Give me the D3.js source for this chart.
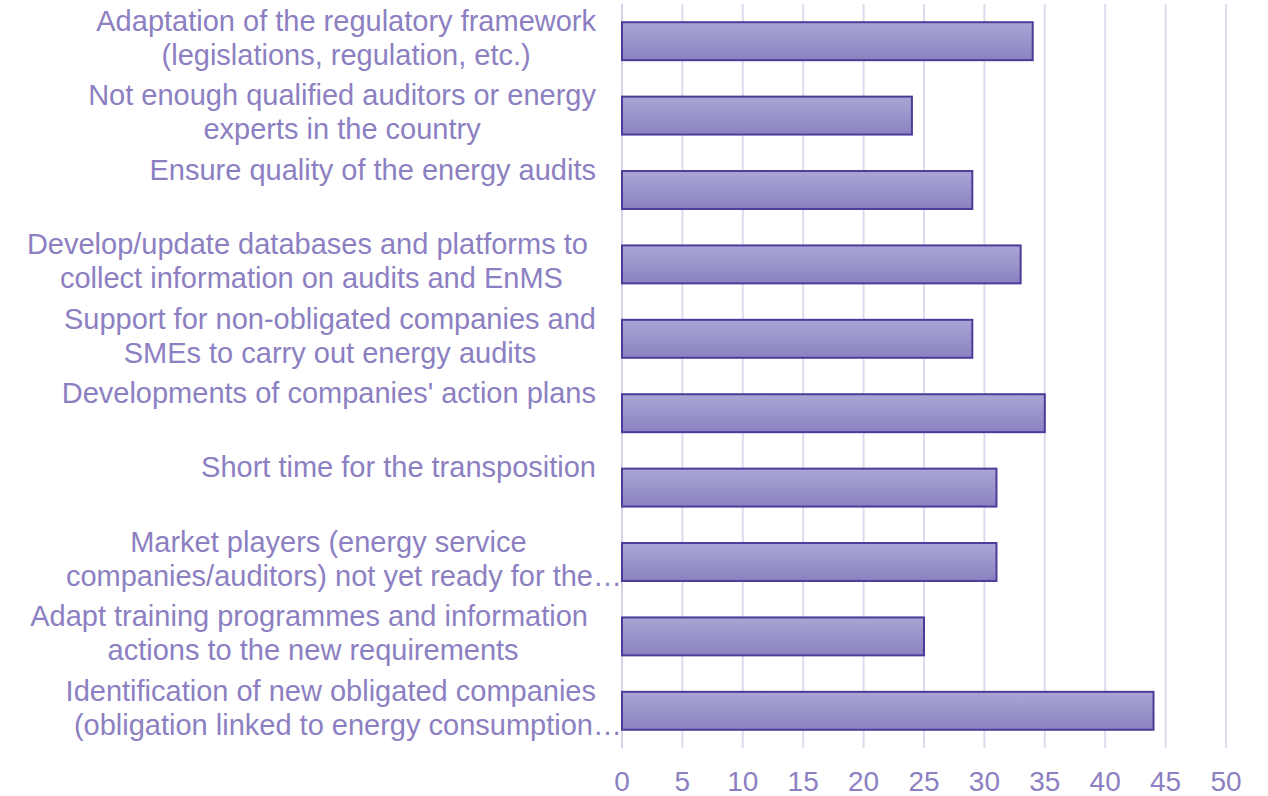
<!DOCTYPE html>
<html>
<head>
<meta charset="utf-8">
<script src="https://cdn.jsdelivr.net/npm/d3@7"></script>
<style>
  body { margin: 0; background: #ffffff; }
  text { font-family: "Liberation Sans", Arial, sans-serif; white-space: pre; }
</style>
</head>
<body>
<div id="chart"></div>
<script>
// ---- Data ----
const categories = [
    ["Adaptation of the regulatory framework", "(legislations, regulation, etc.)"],
    ["Not enough qualified auditors or energy", "experts in the country"],
    ["Ensure quality of the energy audits"],
    ["Develop/update databases and platforms to ", "collect information on audits and EnMS"],
    ["Support for non-obligated companies and", "SMEs to carry out energy audits"],
    ["Developments of companies' action plans"],
    ["Short time for the transposition"],
    ["Market players (energy service", "companies/auditors) not yet ready for the \u2026"],
    ["Adapt training programmes and information ", "actions to the new requirements"],
    ["Identification of new obligated companies", "(obligation linked to energy consumption\u2026"]
];
const values = [34, 24, 29, 33, 29, 35, 31, 31, 25, 44];
const xTicks = [0, 5, 10, 15, 20, 25, 30, 35, 40, 45, 50];

const width = 1268, height = 796;
const textColor = "#8c80c2";

const svg = d3.select("#chart")
    .append("svg")
    .attr("width", width)
    .attr("height", height);

// gradient for bars
const grad = svg.append("defs").append("linearGradient")
    .attr("id", "barGrad")
    .attr("x1", 0).attr("y1", 0).attr("x2", 0).attr("y2", 1);
grad.append("stop").attr("offset", "0%").attr("stop-color", "#a9a6d5");
grad.append("stop").attr("offset", "100%").attr("stop-color", "#8a82c0");

// ---- Scales ----
const xScale = d3.scaleLinear().domain([0, 50]).range([622, 1226]);
const yScale = d3.scaleBand()
    .domain(d3.range(categories.length))
    .range([4, 748])
    .paddingInner(0.49)
    .paddingOuter(0.245);

// ---- Gridlines ----
svg.append("g")
    .selectAll("line")
    .data(xTicks)
    .join("line")
    .attr("x1", d => xScale(d))
    .attr("x2", d => xScale(d))
    .attr("y1", 4)
    .attr("y2", 748)
    .attr("stroke", d => d === 0 ? "#d6d2ea" : "#dedbef")
    .attr("stroke-width", 2);

// ---- Bars ----
svg.append("g")
    .selectAll("rect")
    .data(values)
    .join("rect")
    .attr("x", xScale(0))
    .attr("y", (d, i) => yScale(i))
    .attr("width", d => xScale(d) - xScale(0))
    .attr("height", yScale.bandwidth())
    .attr("fill", "url(#barGrad)")
    .attr("stroke", "#4b3c9c")
    .attr("stroke-width", 2);

// ---- Category labels ----
const step = yScale.step();
const labelRight = 596;
const lineHeight = 34;

// measure a string (used for truncated lines without the ellipsis)
const measure = svg.append("text").style("font-size", "29px").attr("opacity", 0);
function textWidth(s) {
    measure.text(s);
    return measure.node().getComputedTextLength();
}

const labels = svg.append("g").attr("class", "labels");
categories.forEach((lines, i) => {
    const bandTop = 4 + i * step;
    const g = labels.append("g");
    // lines are centred in a block right-aligned at labelRight; truncated lines end at the axis
    const blockW = d3.max(lines, l => textWidth(l.replace("\u2026", "")));
    const centre = labelRight - blockW / 2;
    lines.forEach((line, j) => {
        const cut = line.endsWith("\u2026");
        g.append("text")
            .attr("x", cut ? xScale(0) : centre)
            .attr("y", bandTop + 27 + j * lineHeight)
            .attr("text-anchor", cut ? "end" : "middle")
            .attr("fill", textColor)
            .style("font-size", "29px")
            .text(cut ? line.replace(" \u2026", "\u2026") : line);
    });
});
measure.remove();

// ---- X axis tick labels ----
svg.append("g")
    .selectAll("text")
    .data(xTicks)
    .join("text")
    .attr("x", d => xScale(d))
    .attr("y", 791)
    .attr("text-anchor", "middle")
    .attr("fill", textColor)
    .style("font-size", "28px")
    .text(d => d);
</script>
</body>
</html>
